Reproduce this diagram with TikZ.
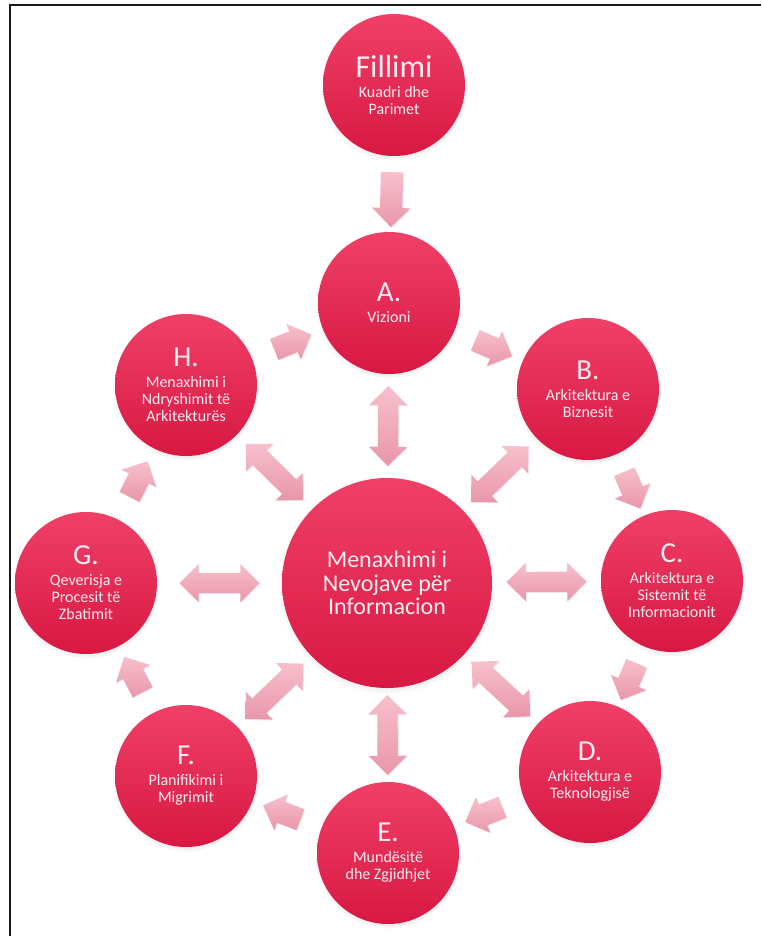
\documentclass[tikz,border=0pt]{standalone}
\usepackage{fontspec}
\setmainfont{Carlito}
\usetikzlibrary{shapes.arrows, shadows}
\definecolor{circtop}{RGB}{240,64,104}
\definecolor{circbot}{RGB}{215,24,66}
\definecolor{arrtop}{RGB}{247,192,204}
\definecolor{arrbot}{RGB}{233,150,170}
\definecolor{phasetext}{RGB}{255,236,241}
\newcommand{\phasetitle}[1]{{\fontsize{29}{29}\selectfont #1}\\[4pt]}

\tikzset{
  phase/.style={circle, minimum size=142pt, inner sep=0pt,
    top color=circtop, bottom color=circbot, text=phasetext,
    align=center, font=\fontsize{16}{17}\selectfont,
    circular drop shadow={opacity=0.3, shadow xshift=0pt,
      shadow yshift=-2pt, shadow scale=1.04}},
  core/.style={phase, minimum size=210pt,
    font=\fontsize{24}{23.5}\selectfont},
  sarrow/.style={single arrow, single arrow head extend=8pt,
    minimum height=40pt, inner xsep=0pt, inner ysep=11pt,
    top color=arrtop, bottom color=arrbot, sloped, allow upside down,
    drop shadow={opacity=0.15, shadow xshift=1pt, shadow yshift=-1pt}},
  darrow/.style={double arrow, double arrow head extend=9pt,
    minimum height=80pt, inner xsep=0pt, inner ysep=10pt,
    top color=arrtop, bottom color=arrbot, sloped,
    drop shadow={opacity=0.15, shadow xshift=1pt, shadow yshift=-1pt}}
}

\begin{document}
\begin{tikzpicture}[x=1pt, y=-1pt]
  \useasboundingbox (0,0) rectangle (761,936);
  % Frame
  \draw[line width=1.8pt, black!90] (10,936) -- (10,5) -- (761,5);
  % Phases
  \node[phase] (start) at (394,85)
    {{\fontsize{32}{32}\selectfont Fillimi}\\[3pt] Kuadri dhe\\ Parimet};
  \node[phase] (A) at (389,303) {\phasetitle{A.} Vizioni};
  \node[phase] (B) at (588,389) {\phasetitle{B.} Arkitektura e\\ Biznesit};
  \node[phase] (C) at (672,581)
    {\phasetitle{C.} Arkitektura e\\ Sistemit të\\ Informacionit};
  \node[phase] (D) at (590,772) {\phasetitle{D.} Arkitektura e\\ Teknologjisë};
  \node[phase] (E) at (388,853) {\phasetitle{E.} Mundësitë\\ dhe Zgjidhjet};
  \node[phase] (F) at (186,776) {\phasetitle{F.} Planifikimi i\\ Migrimit};
  \node[phase] (G) at (86,583)
    {\phasetitle{G.} Qeverisja e\\ Procesit të\\ Zbatimit};
  \node[phase] (H) at (186,385)
    {\phasetitle{H.} Menaxhimi i\\ Ndryshimit të\\ Arkitekturës};
  \node[core] (req) at (387,583) {Menaxhimi i\\ Nevojave për\\ Informacion};
  % Cycle
  \path (start) -- node[sarrow, minimum height=55pt] {} (A);
  \path (A) -- node[sarrow] {} (B);
  \path (B) -- node[sarrow] {} (C);
  \path (C) -- node[sarrow] {} (D);
  \path (D) -- node[sarrow] {} (E);
  \path (E) -- node[sarrow] {} (F);
  \path (F) -- node[sarrow] {} (G);
  \path (G) -- node[sarrow] {} (H);
  \path (H) -- node[sarrow] {} (A);
  % Requirements links
  \foreach \p in {A,B,C,D,E,F,G,H}
    \path (req) -- node[darrow] {} (\p);
\end{tikzpicture}
\end{document}
